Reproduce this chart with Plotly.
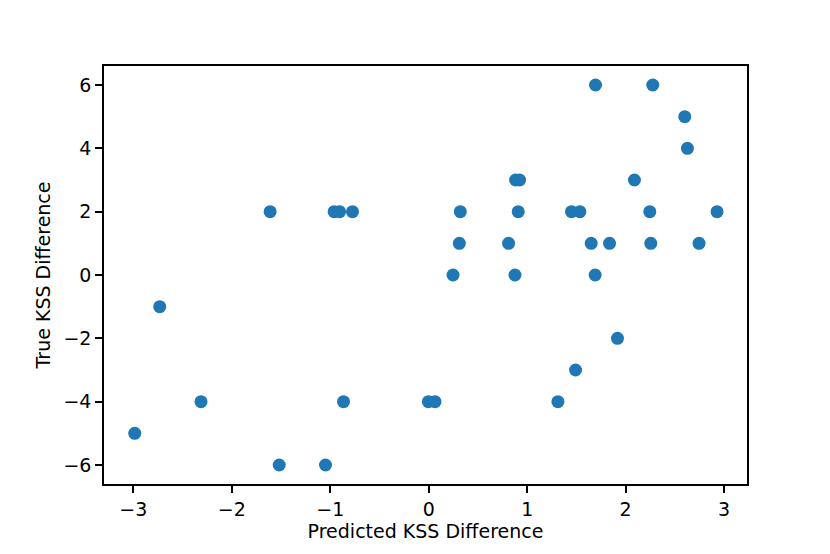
import plotly.graph_objects as go

predicted = [-1.61, -0.96, -0.905, -0.774,
             1.694, 2.275, 2.60, 2.627,
             0.882, 0.923, 2.089,
             0.321, 0.909, 1.450, 1.535, 2.245, 2.928,
             0.311, 0.811, 1.650, 1.836, 2.255, 2.745,
             0.247, 0.876, 1.690,
             -2.731, -2.312, -2.985, -1.518, -1.048, -0.865, -0.003, 0.064,
             1.312, 1.491, 1.917]
true_vals = [2, 2, 2, 2,
             6, 6, 5, 4,
             3, 3, 3,
             2, 2, 2, 2, 2, 2,
             1, 1, 1, 1, 1, 1,
             0, 0, 0,
             -1, -4, -5, -6, -6, -4, -4, -4,
             -4, -3, -2]

x_ticks = [-3, -2, -1, 0, 1, 2, 3]
y_ticks = [-6, -4, -2, 0, 2, 4, 6]

fig = go.Figure(go.Scatter(
    x=predicted, y=true_vals, mode="markers",
    marker=dict(color="#1f77b4", size=13, line=dict(width=0)),
))

axis_common = dict(
    showgrid=False, zeroline=False, showline=True, linecolor="black",
    linewidth=1.5, mirror=True, ticks="outside", ticklen=7, tickwidth=1.5,
    tickcolor="black", tickfont=dict(family="DejaVu Sans", size=19, color="black"),
)

fig.update_layout(
    width=830, height=554,
    margin=dict(l=96, r=91, t=58, b=78),
    paper_bgcolor="white", plot_bgcolor="white",
    font=dict(family="DejaVu Sans", size=19, color="black"),
    showlegend=False,
    xaxis=dict(range=[-3.297, 3.232], tickvals=x_ticks, automargin=False,
               title=dict(text="Predicted KSS Difference", standoff=4,
                          font=dict(family="DejaVu Sans", size=19)),
               **axis_common),
    yaxis=dict(range=[-6.6, 6.6], tickvals=y_ticks, automargin=False,
               title=dict(text="True KSS Difference", standoff=8,
                          font=dict(family="DejaVu Sans", size=19)),
               **axis_common),
)

fig.write_html("out.html")
